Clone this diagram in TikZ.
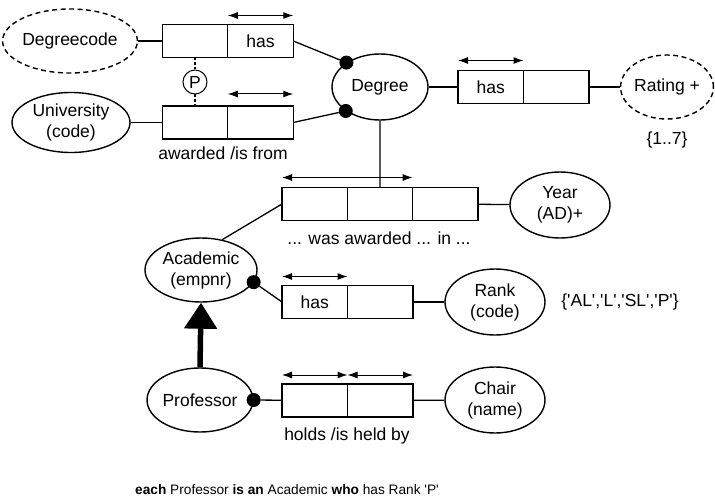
\documentclass[tikz,border=0pt]{standalone}
\usepackage{fontspec}
\setmainfont{Liberation Sans}
\usetikzlibrary{positioning,arrows.meta,shapes.geometric}
\newcommand{\lblfont}{\fontsize{17.5}{21}\selectfont}
\newcommand{\notefont}{\fontsize{13.7}{16}\selectfont}
\newcommand{\squote}{\textquotesingle}

\begin{document}
\begin{tikzpicture}[x=1pt,y=-1pt,>=Latex]
  \tikzset{
    ot/.style={ellipse,draw=black,line width=1.4pt,inner sep=0pt,align=center,font=\lblfont},
    vt/.style={ot,dashed,dash pattern=on 5pt off 3.5pt},
    cell/.style={rectangle,draw=black,line width=1.2pt,minimum width=65.5pt,minimum height=33pt,
                 inner sep=0pt,outer sep=0pt,font=\lblfont},
    link/.style={draw=black,line width=1.3pt},
    uc/.style={<->,line width=1pt,>={Latex[length=10pt,width=7pt]}},
    dot/.style={circle,fill=black,inner sep=0pt,minimum size=14pt},
    lbl/.style={font=\lblfont,inner sep=0pt},
  }
  \useasboundingbox (0,0) rectangle (715,500);

  % object types
  \node[vt,minimum width=116,minimum height=64] (dgc) at (70,41) {Degreecode};
  \node[ot,minimum width=118,minimum height=60] (univ) at (71,122.5) {University\\(code)};
  \node[ot,minimum width=96,minimum height=66] (deg) at (380,87) {Degree};
  \node[vt,minimum width=90,minimum height=64] (rating) at (667,87) {Rating +};
  \node[ot,minimum width=100,minimum height=66] (year) at (560,205) {Year\\(AD)+};
  \node[ot,minimum width=112,minimum height=64] (acad) at (201,270) {Academic\\(empnr)};
  \node[ot,minimum width=100,minimum height=66] (rank) at (495,302) {Rank\\(code)};
  \node[ot,minimum width=96,minimum height=64] (prof) at (200,400) {Professor};
  \node[ot,minimum width=100,minimum height=66] (chair) at (495,400) {Chair\\(name)};

  % fact types
  \node[cell] (hasA) at (195,41) {};
  \node[cell,right=0pt of hasA] (hasB) {has};
  \node[cell] (awA) at (195,122.5) {};
  \node[cell,right=0pt of awA] (awB) {};
  \node[cell] (dhA) at (490.75,87) {has};
  \node[cell,right=0pt of dhA] (dhB) {};
  \node[cell,minimum width=65.33pt] (waA) at (314.67,204) {};
  \node[cell,minimum width=65.33pt,right=0pt of waA] (waB) {};
  \node[cell,minimum width=65.33pt,right=0pt of waB] (waC) {};
  \node[cell] (rkA) at (314.75,302) {has};
  \node[cell,right=0pt of rkA] (rkB) {};
  \node[cell] (hoA) at (314.75,400.5) {};
  \node[cell,right=0pt of hoA] (hoB) {};

  % uniqueness constraints
  \draw[uc] ([yshift=9pt]hasB.north west) -- ([yshift=9pt]hasB.north east);
  \draw[uc] ([yshift=12pt]awB.north west) -- ([yshift=12pt]awB.north east);
  \draw[uc] ([yshift=10pt]dhA.north west) -- ([yshift=10pt]dhA.north east);
  \draw[uc] ([yshift=10pt]waA.north west) -- ([yshift=10pt]waB.north east);
  \draw[uc] ([yshift=9pt]rkA.north west) -- ([yshift=9pt]rkA.north east);
  \draw[uc] ([yshift=9pt]hoA.north west) -- ([yshift=9pt]hoA.north east);
  \draw[uc] ([yshift=9pt]hoB.north west) -- ([yshift=9pt]hoB.north east);

  % mandatory dots
  \node[dot] (m1) at (deg.144) {};
  \node[dot] (m2) at (deg.215) {};
  \node[dot] (m3) at (acad.-13) {};
  \node[dot] (m4) at (prof.east) {};

  % roles
  \draw[link] (dgc) -- (hasA);
  \draw[link] (hasB.east) -- (m1);
  \draw[link] (univ) -- (awA);
  \draw[link] (awB.east) -- (m2);
  \draw[link] (deg) -- (dhA);
  \draw[link] (dhB) -- (rating);
  \draw[link] (deg.south) -- (waB.north);
  \draw[link] (acad.55) -- (waA.west);
  \draw[link] (waC) -- (year);
  \draw[link] (m3) -- (rkA.west);
  \draw[link] (rkB) -- (rank);
  \draw[link] (m4) -- (hoA);
  \draw[link] (hoB) -- (chair);

  % preferred identifier
  \node[circle,draw=black,line width=1pt,minimum size=24pt,inner sep=0pt,font=\lblfont] (pc) at (195,82) {P};
  \draw[line width=1.3pt,dash pattern=on 3pt off 2pt] (hasA.south) -- (pc.north);
  \draw[line width=1.3pt,dash pattern=on 3pt off 2pt] (pc.south) -- (awA.north);

  % subtype
  \draw[line width=5.5pt,-{Triangle[length=26pt,width=32pt]}] (prof.north) -- (acad.south);

  \node[lbl] (awlbl) at (223,153) {awarded /is from};
  \node[lbl] (walbl) at (379,238) {... was awarded ... in ...};
  \node[lbl] (holbl) at (347,436) {holds /is held by};
  \node[lbl] (rtval) at (667,140) {\{1..7\}};
  \node[lbl] (rkval) at (620,302) {\{\squote AL\squote,\squote L\squote,\squote SL\squote,\squote P\squote\}};
  \node[font=\notefont] (note) at (287,490) {\textbf{each} Professor \textbf{is an} Academic \textbf{who} has Rank \squote P\squote};
\end{tikzpicture}
\end{document}
